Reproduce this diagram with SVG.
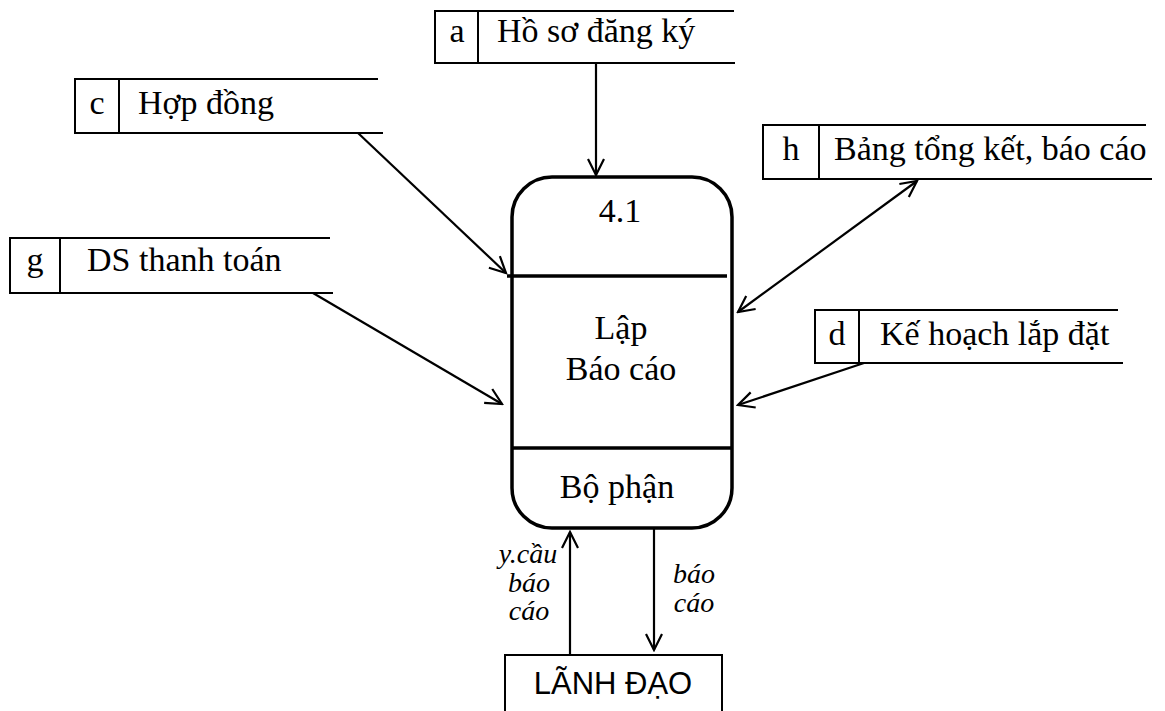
<svg xmlns="http://www.w3.org/2000/svg" width="1165" height="711" viewBox="0 0 1165 711">
<defs>
<style>
.t{font-family:"Liberation Serif","Times New Roman",serif;font-size:34px;fill:#000}
.i{font-family:"Liberation Serif","Times New Roman",serif;font-size:28px;font-style:italic;fill:#000}
.s{font-family:"Liberation Sans",Arial,sans-serif;font-size:31px;fill:#000}
.ln{stroke:#000;stroke-width:2;fill:none}
.pb{stroke:#000;stroke-width:3.5;fill:#fff}
.c{stroke:#000;stroke-width:2.2;fill:none;marker-end:url(#ah)}
</style>
<marker id="ah" viewBox="0 0 20 20" refX="18" refY="10" markerWidth="20" markerHeight="20" markerUnits="userSpaceOnUse" orient="auto-start-reverse">
<path d="M2,2 L18,10 L2,18" fill="none" stroke="#000" stroke-width="2.2"/>
</marker>
</defs>
<g id="store-a">
<path class="ln" d="M734,11 H435 V63 H735 M478,11 V63"/>
<text class="t" x="457" y="42" text-anchor="middle">a</text>
<text class="t" x="497" y="42">Hồ sơ đăng ký</text>
</g>
<g id="store-c">
<path class="ln" d="M378,79 H75 V133 H383 M119,79 V133"/>
<text class="t" x="97" y="114" text-anchor="middle">c</text>
<text class="t" x="138" y="114">Hợp đồng</text>
</g>
<g id="store-g">
<path class="ln" d="M330,238 H10 V293 H333 M60,238 V293"/>
<text class="t" x="35" y="271" text-anchor="middle">g</text>
<text class="t" x="87" y="271">DS thanh toán</text>
</g>
<g id="store-h">
<path class="ln" d="M1146,125 H763 V179 H1152 M819,125 V179"/>
<text class="t" x="791" y="160" text-anchor="middle">h</text>
<text class="t" x="834" y="160">Bảng tổng kết, báo cáo</text>
</g>
<g id="store-d">
<path class="ln" d="M1118,310 H815 V363 H1123 M859,310 V363"/>
<text class="t" x="837" y="345" text-anchor="middle">d</text>
<text class="t" x="880" y="345">Kế hoạch lắp đặt</text>
</g>
<g id="process-4.1">
<rect class="pb" x="512" y="177" width="220" height="351" rx="40" ry="40"/>
<line x1="507" y1="276" x2="727" y2="276" stroke="#000" stroke-width="3.5"/>
<line x1="512" y1="448" x2="732" y2="448" stroke="#000" stroke-width="3.5"/>
<text class="t" x="620" y="222" text-anchor="middle">4.1</text>
<text class="t" x="621" y="339" text-anchor="middle">Lập</text>
<text class="t" x="621" y="380" text-anchor="middle">Báo cáo</text>
<text class="t" x="617" y="498" text-anchor="middle">Bộ phận</text>
</g>
<g id="lanh-dao">
<path class="ln" d="M505,712 V655 H722 V712"/>
<text class="s" x="613" y="694" text-anchor="middle">LÃNH ĐẠO</text>
</g>
<g id="connectors">
<line class="c" x1="596" y1="63" x2="596" y2="175"/>
<line class="c" x1="358" y1="133" x2="506" y2="273"/>
<line class="c" x1="313" y1="293" x2="502" y2="404"/>
<line class="c" x1="917" y1="181" x2="738" y2="312" style="marker-start:url(#ah)"/>
<line class="c" x1="864" y1="363" x2="738" y2="405"/>
<line class="c" x1="570" y1="655" x2="570" y2="532"/>
<line class="c" x1="654" y1="528" x2="654" y2="650"/>
<text class="i" x="528" y="563" text-anchor="middle">y.cầu</text>
<text class="i" x="529" y="592" text-anchor="middle">báo</text>
<text class="i" x="529" y="620" text-anchor="middle">cáo</text>
<text class="i" x="694" y="583" text-anchor="middle">báo</text>
<text class="i" x="694" y="612" text-anchor="middle">cáo</text>
</g>
</svg>
